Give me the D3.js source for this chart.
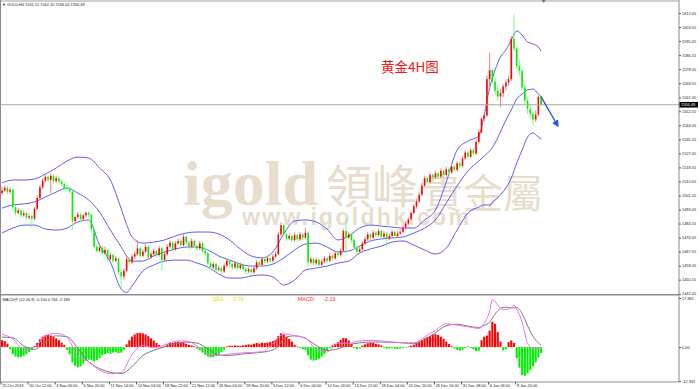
<!DOCTYPE html>
<html><head><meta charset="utf-8">
<script src="https://cdn.jsdelivr.net/npm/d3@7"></script>
<style>html,body{margin:0;padding:0;background:#fff;overflow:hidden}</style>
</head><body><svg id="c" width="700" height="389"></svg>
<script>
const header = "▼ GOLD,H4  1561.51 1562.10 1556.04 1556.49";
const macdHeader = "MACD柱 (12,26,9) -0.150 0.764 -2.188";
const title = "黄金4H图";
const deaText = ["DEA:", "0.76"];
const macdText = ["MACD:", "-2.19"];
const lastPrice = 1556.49;

// [open, high, low, close] per H4 bar
const ohlc = [
[1503.0,1507.0,1501.5,1504.5],[1504.5,1508.0,1503.5,1506.2],[1506.2,1507.5,1502.0,1503.8],[1503.8,1506.5,1502.5,1505.0],
[1505.0,1505.8,1493.0,1494.5],[1494.5,1495.5,1489.5,1491.0],[1491.0,1494.0,1490.0,1492.5],[1492.5,1493.5,1488.0,1489.5],
[1489.5,1492.5,1488.5,1490.8],[1490.8,1491.5,1486.5,1488.2],[1488.2,1490.5,1487.0,1489.0],[1489.0,1490.0,1482.0,1487.5],
[1487.5,1494.5,1486.5,1493.5],[1493.5,1501.5,1492.5,1500.0],[1500.0,1508.0,1499.0,1506.5],[1506.5,1512.0,1505.0,1510.5],
[1510.5,1514.5,1509.5,1512.8],[1512.8,1514.0,1509.5,1511.0],[1511.0,1515.0,1503.0,1513.5],[1513.5,1514.5,1508.5,1510.2],
[1510.2,1513.5,1509.0,1512.0],[1512.0,1513.0,1508.5,1510.0],[1510.0,1511.5,1507.0,1508.5],[1508.5,1509.5,1504.5,1506.0],
[1506.0,1508.0,1504.0,1505.5],[1505.5,1507.0,1502.5,1504.0],[1504.0,1505.0,1481.0,1486.0],[1486.0,1489.5,1484.5,1488.5],
[1488.5,1491.5,1487.0,1490.0],[1490.0,1491.0,1485.5,1487.2],[1487.2,1490.5,1486.0,1489.5],[1489.5,1492.0,1488.0,1491.0],
[1491.0,1492.0,1488.0,1489.8],[1489.8,1490.5,1479.5,1481.0],[1481.0,1482.0,1469.0,1470.5],[1470.5,1472.0,1466.5,1468.0],
[1468.0,1472.5,1467.0,1470.0],[1470.0,1471.0,1465.0,1466.5],[1466.5,1470.5,1465.5,1468.5],[1468.5,1469.5,1461.5,1463.0],
[1463.0,1467.0,1462.0,1465.5],[1465.5,1466.5,1460.5,1462.0],[1462.0,1465.0,1461.0,1463.5],[1463.5,1464.0,1453.5,1455.0],
[1455.0,1457.0,1446.0,1452.5],[1452.5,1457.5,1450.5,1456.0],[1456.0,1464.5,1455.0,1463.0],[1463.0,1464.0,1459.5,1461.0],
[1461.0,1466.0,1460.0,1464.5],[1464.5,1467.5,1463.0,1466.0],[1466.0,1474.5,1465.0,1469.5],[1469.5,1470.5,1463.5,1465.0],
[1465.0,1469.0,1464.0,1467.5],[1467.5,1472.0,1466.5,1470.5],[1470.5,1471.5,1462.5,1464.0],[1464.0,1467.5,1463.0,1466.0],
[1466.0,1469.5,1465.0,1468.0],[1468.0,1469.0,1464.0,1465.5],[1465.5,1471.0,1464.5,1469.5],[1469.5,1470.5,1456.0,1462.5],
[1462.5,1467.5,1461.5,1466.0],[1466.0,1472.0,1465.0,1470.5],[1470.5,1474.5,1469.5,1473.0],[1473.0,1474.0,1467.5,1469.0],
[1469.0,1474.0,1468.0,1472.5],[1472.5,1475.5,1471.5,1474.0],[1474.0,1475.0,1470.0,1471.5],[1471.5,1478.0,1470.5,1476.5],
[1476.5,1477.5,1471.5,1473.0],[1473.0,1474.0,1469.0,1470.5],[1470.5,1475.5,1469.5,1474.0],[1474.0,1475.0,1469.5,1471.0],
[1471.0,1472.0,1468.0,1469.5],[1469.5,1474.0,1468.5,1472.5],[1472.5,1473.5,1466.5,1468.0],[1468.0,1469.0,1465.0,1466.5],
[1466.5,1467.5,1459.0,1460.5],[1460.5,1461.5,1456.5,1458.0],[1458.0,1461.5,1457.0,1460.0],[1460.0,1461.0,1455.0,1456.5],
[1456.5,1459.0,1455.5,1457.5],[1457.5,1458.5,1454.0,1455.5],[1455.5,1460.5,1454.5,1459.0],[1459.0,1463.5,1458.0,1462.0],
[1462.0,1463.0,1458.5,1460.0],[1460.0,1461.0,1456.5,1458.0],[1458.0,1462.0,1457.0,1460.5],[1460.5,1461.5,1456.0,1457.5],
[1457.5,1461.0,1456.5,1459.5],[1459.5,1460.5,1455.5,1457.0],[1457.0,1458.0,1453.5,1455.5],[1455.5,1458.0,1454.5,1456.8],
[1456.8,1457.5,1453.5,1455.0],[1455.0,1458.5,1454.0,1457.5],[1457.5,1462.5,1456.5,1461.0],[1461.0,1462.0,1458.0,1459.5],
[1459.5,1464.5,1458.5,1463.0],[1463.0,1464.0,1460.0,1461.5],[1461.5,1465.0,1460.5,1463.5],[1463.5,1464.5,1460.5,1462.0],
[1462.0,1466.0,1461.0,1464.5],[1464.5,1467.5,1463.5,1466.0],[1466.0,1479.5,1465.5,1478.0],[1478.0,1485.5,1477.0,1483.5],
[1483.5,1484.5,1476.5,1478.0],[1478.0,1479.0,1474.0,1475.5],[1475.5,1478.5,1474.5,1477.0],[1477.0,1478.0,1473.0,1474.5],
[1474.5,1479.0,1473.5,1477.5],[1477.5,1478.5,1473.5,1475.0],[1475.0,1479.5,1474.0,1478.0],[1478.0,1479.0,1474.5,1476.0],
[1476.0,1481.7,1475.0,1479.0],[1479.0,1480.0,1458.5,1461.0],[1461.0,1464.5,1460.0,1463.0],[1463.0,1464.0,1459.0,1460.5],
[1460.5,1464.0,1459.5,1462.5],[1462.5,1463.5,1458.0,1459.5],[1459.5,1463.0,1458.5,1461.5],[1461.5,1465.0,1460.5,1463.5],
[1463.5,1464.5,1460.5,1462.0],[1462.0,1466.5,1461.0,1465.0],[1465.0,1466.0,1462.0,1463.5],[1463.5,1468.0,1462.5,1466.5],
[1466.5,1467.5,1464.0,1465.5],[1465.5,1469.5,1464.5,1468.0],[1468.0,1481.5,1467.0,1480.0],[1480.0,1488.0,1466.0,1476.0],
[1476.0,1479.5,1475.0,1478.0],[1478.0,1479.0,1473.0,1474.5],[1474.5,1475.5,1468.5,1470.0],[1470.0,1471.0,1466.0,1467.5],
[1467.5,1470.5,1466.5,1469.0],[1469.0,1474.0,1468.0,1472.5],[1472.5,1476.5,1471.5,1475.0],[1475.0,1479.5,1474.0,1478.0],
[1478.0,1479.0,1474.5,1476.0],[1476.0,1480.5,1475.0,1479.0],[1479.0,1480.0,1476.0,1477.5],[1477.5,1481.5,1476.5,1480.0],
[1480.0,1481.0,1475.0,1476.5],[1476.5,1480.0,1475.5,1478.5],[1478.5,1479.5,1470.0,1475.5],[1475.5,1478.5,1474.5,1477.0],
[1477.0,1481.0,1476.0,1479.5],[1479.5,1480.5,1475.5,1477.0],[1477.0,1480.0,1476.0,1478.5],[1478.5,1481.0,1477.5,1479.5],
[1479.5,1483.5,1478.5,1482.0],[1482.0,1486.0,1481.0,1484.5],[1484.5,1488.5,1483.5,1487.0],[1487.0,1492.5,1486.0,1491.0],
[1491.0,1496.5,1490.0,1495.0],[1495.0,1499.5,1493.5,1498.0],[1498.0,1503.5,1497.0,1502.0],[1502.0,1509.0,1501.0,1507.5],
[1507.5,1513.5,1506.5,1512.0],[1512.0,1513.0,1508.0,1509.5],[1509.5,1515.5,1508.5,1514.0],[1514.0,1515.0,1511.0,1512.5],
[1512.5,1516.5,1511.5,1515.0],[1515.0,1516.0,1511.5,1513.0],[1513.0,1518.0,1512.0,1516.5],[1516.5,1517.5,1512.5,1514.0],
[1514.0,1519.0,1513.0,1517.5],[1517.5,1518.5,1514.0,1515.5],[1515.5,1520.5,1514.5,1519.0],[1519.0,1520.0,1515.5,1517.0],
[1517.0,1522.5,1516.0,1521.0],[1521.0,1522.0,1518.0,1519.5],[1519.5,1525.5,1518.5,1524.0],[1524.0,1529.0,1523.0,1527.5],
[1527.5,1528.5,1523.5,1525.0],[1525.0,1530.5,1524.0,1529.0],[1529.0,1530.0,1525.5,1527.0],[1527.0,1535.5,1526.0,1534.0],
[1534.0,1541.5,1533.0,1540.0],[1540.0,1549.0,1539.0,1548.0],[1548.0,1551.5,1546.0,1550.0],[1550.0,1574.0,1549.0,1572.0],
[1572.0,1588.0,1566.0,1577.5],[1577.5,1579.0,1569.0,1570.5],[1570.5,1573.5,1563.0,1565.0],[1565.0,1568.0,1559.0,1561.5],
[1561.5,1566.0,1555.0,1563.5],[1563.5,1569.0,1561.0,1567.5],[1567.5,1572.0,1565.0,1570.0],[1570.0,1574.0,1568.0,1572.0],
[1572.0,1598.0,1571.0,1596.5],[1596.5,1611.0,1588.0,1590.5],[1590.5,1592.0,1578.0,1580.0],[1580.0,1584.0,1574.0,1577.0],
[1577.0,1579.0,1565.0,1567.0],[1567.0,1569.0,1557.0,1559.0],[1559.0,1561.0,1551.0,1554.0],[1554.0,1557.0,1548.0,1551.0],
[1551.0,1553.0,1544.0,1547.5],[1547.5,1553.0,1546.0,1550.5],[1550.5,1562.0,1549.5,1561.3],[1561.51,1562.10,1556.04,1556.49]
];

// Bollinger bands (20,2) read at these bar indices
const bandIdx = [0,4,8,12,16,20,24,28,32,36,40,44,46,48,52,56,60,64,68,72,76,80,84,88,92,96,100,104,108,112,116,120,124,128,132,136,140,144,148,152,156,160,164,168,172,176,178,180,182,184,186,188,190,192,194,196,198,199];
const bandUpper = [1509.1,1510.9,1510.9,1511.5,1514.5,1518.2,1522.4,1524.8,1524.2,1518.2,1510.9,1493.5,1484.0,1476.5,1472.7,1473.3,1474.6,1477.0,1478.8,1479.4,1479.4,1478.2,1474.6,1469.1,1464.9,1463.7,1467.3,1478.2,1486.1,1486.7,1485.5,1481.2,1474.6,1477.0,1481.8,1483.6,1483.0,1482.4,1481.8,1481.8,1486.7,1492.7,1509.7,1529.1,1534.5,1537.6,1550.3,1566.6,1577.5,1585.4,1589.6,1595.7,1601.2,1598.7,1594.5,1593.3,1591.5,1589.0];
const bandMid = [1493.9,1495.8,1496.4,1497.6,1500.6,1503.6,1506.1,1503.0,1498.8,1491.5,1480.6,1470.3,1465.0,1461.8,1461.8,1464.9,1467.3,1469.1,1470.3,1470.3,1468.5,1464.9,1462.4,1460.0,1458.8,1458.8,1460.0,1463.7,1468.5,1472.1,1472.7,1470.3,1467.3,1467.9,1470.9,1474.0,1475.2,1475.8,1476.4,1478.8,1481.8,1486.7,1497.0,1507.3,1516.4,1522.4,1525.4,1528.5,1533.3,1540.0,1547.2,1553.3,1560.0,1563.0,1565.4,1566.0,1563.0,1561.2];
const bandLower = [1478.8,1481.8,1483.6,1483.6,1481.2,1480.6,1481.8,1485.5,1486.7,1471.5,1461.2,1444.9,1442.8,1446.7,1455.8,1459.4,1461.8,1462.4,1462.4,1460.6,1458.2,1454.0,1451.5,1451.5,1452.8,1453.4,1452.2,1447.3,1450.3,1456.4,1457.6,1458.8,1460.6,1461.8,1466.7,1469.1,1470.9,1473.3,1474.0,1471.5,1468.5,1466.1,1469.7,1480.6,1490.9,1494.5,1495.8,1495.8,1498.8,1501.8,1506.1,1512.1,1521.2,1529.1,1536.9,1539.4,1536.9,1535.7];

// MACD histogram per bar
const macdHist = [
2.5,2.2,1.2,-0.8,-2.5,-3.4,-3.7,-3.6,-3.2,-2.6,
-1.8,-1.0,0.3,1.5,2.8,3.8,4.3,4.4,4.2,3.8,
3.2,2.5,1.6,0.8,-1.0,-2.5,-5.5,-6.8,-7.3,-7.0,
-6.0,-5.0,-4.6,-4.8,-5.2,-4.8,-4.0,-3.0,-2.5,-2.2,
-2.4,-2.0,-1.8,-2.2,-2.0,-1.0,1.0,2.5,3.8,4.6,
5.1,5.2,5.0,4.6,4.0,3.2,2.4,1.5,0.8,-0.4,
0.3,1.0,1.6,1.5,1.8,2.0,1.6,1.8,1.2,0.8,
0.6,0.3,-0.6,-1.2,-2.0,-2.8,-3.4,-3.7,-3.6,-3.2,
-2.6,-1.8,-1.0,0.3,0.5,0.4,0.6,0.5,0.4,0.6,
0.8,1.0,0.9,1.2,1.5,1.3,1.6,1.5,1.7,1.9,
2.2,2.6,4.0,5.0,4.6,3.8,3.0,2.0,0.8,0.2,
-0.3,-0.8,-1.0,-3.0,-4.6,-4.9,-4.7,-4.2,-3.5,-2.6,
-1.4,-0.4,0.6,1.2,1.8,2.6,3.3,3.2,2.4,1.2,
-0.4,-0.8,-0.5,0.5,1.0,1.4,1.6,1.5,1.2,1.0,
0.6,-0.3,-0.6,-0.5,-0.4,-0.6,-0.7,-0.5,-0.3,-0.2,
0.2,0.5,0.9,1.5,2.0,2.6,3.2,3.7,4.1,4.5,
4.7,4.4,3.8,3.0,2.0,1.1,0.3,-0.5,-1.0,-1.3,
-1.0,-0.4,0.2,-0.3,-0.8,-1.5,-1.3,2.5,3.8,4.2,
6.0,9.2,8.5,5.5,2.0,-1.2,-0.8,1.8,2.4,1.5,
-4.0,-7.5,-10.2,-10.4,-9.6,-8.4,-7.0,-5.5,-3.8,-2.19
];
// MACD lines read at these bar indices
const lineIdx = [0,4,8,12,16,20,24,28,32,36,40,44,48,52,56,60,64,68,72,76,80,84,88,92,96,100,102,104,108,112,116,120,124,128,132,136,140,144,148,152,156,160,164,168,172,176,178,180,181,182,184,186,188,189,190,192,194,196,198,199];
const difLine = [4.65,3.00,-0.84,-0.11,4.10,5.02,3.66,-3.41,-5.24,-8.35,-9.63,-9.27,-2.67,0.62,-0.29,0.81,2.09,2.27,0.44,-2.49,-3.04,-2.49,-2.12,-1.94,-1.68,1.36,3.55,4.84,4.10,3.37,-0.84,-1.76,1.36,1.43,2.23,2.45,2.27,1.83,1.61,1.54,3.74,6.12,8.50,7.95,7.40,6.78,8.68,13.08,17.4,16.56,14.18,13.63,14.54,15.27,13.81,9.05,1.36,-0.59,-0.37,-0.33];
const deaLine = [3.66,3.37,0.44,-0.84,1.90,4.10,3.74,-0.48,-5.42,-7.80,-9.16,-9.63,-7.07,-3.04,-1.21,0.15,1.17,1.83,1.47,-0.66,-2.86,-3.04,-2.60,-2.23,-1.87,-1.03,0.26,3.19,4.10,3.19,0.62,-1.21,-0.66,0.81,1.54,1.83,1.83,1.79,1.50,1.32,2.71,5.20,7.77,8.32,7.66,7.14,7.95,9.08,10.51,11.98,13.99,14.54,14.18,14.36,14.36,12.16,7.77,3.92,1.54,0.76];

const priceTicks = [1612.05,1603.55,1595.05,1586.55,1578.05,1569.55,1561.05,1552.55,1544.05,1535.55,1527.05,1518.55,1510.05,1501.55,1493.05,1484.55,1476.05,1467.55,1459.05,1450.55,1442.05];
const macdTicks = [17.861, 0, -12.331];
const macdTickLabels = ["17.861", "0.00", "-12.331"];
const timeIdx = [0,10,20,30,40,50,60,70,80,90,100,110,120,130,140,150,160,170,180,190];
const timeLabels = ["25 Oct 2019","30 Oct 12:00","4 Nov 06:00","6 Nov 20:00","11 Nov 14:00","14 Nov 04:00","18 Nov 22:00","21 Nov 12:00","26 Nov 04:00","28 Nov 20:00","3 Dec 12:00","6 Dec 04:00","10 Dec 20:00","13 Dec 12:00","18 Dec 04:00","20 Dec 20:00","26 Dec 16:00","31 Dec 08:00","6 Jan 06:00","8 Jan 20:00"];
const watermark = ["igold", "領峰", "貴金屬", "www.igoldhk.com"];
const arrowFrom = [199, 1561.2];
const arrowTo = [205.2, 1543.6];

// ---------- drawing ----------
const svg = d3.select("#c");
const W = 700, axisX = 679, mainTop = 1, mainBot = 294.5, subBot = 382;
const FONT = "'Liberation Sans', Arial, sans-serif";
const x = d3.scaleLinear().domain([0, ohlc.length - 1]).range([2, 541.1]);
const y = d3.scaleLinear().domain([1442.05, 1612.05]).range([293.7, 13]);
const ym = d3.scaleLinear().domain([-12.331, 17.861]).range([381, 298]);

svg.append("rect").attr("width", W).attr("height", 389).attr("fill", "#fff");

// watermark (one text block)
const wm = svg.append("text").attr("fill", "#e7ddcc");
wm.append("tspan").attr("x", 183).attr("y", 205).attr("font-family", "'Liberation Serif', serif")
  .attr("font-weight", "bold").attr("font-size", 64).text(watermark[0]);
wm.append("tspan").attr("x", 326).attr("y", 203).attr("font-family", "'Noto Sans CJK TC', sans-serif")
  .attr("font-size", 46).text(watermark[1]);
wm.append("tspan").attr("x", 423).attr("y", 208).attr("font-family", "'Noto Sans CJK TC', sans-serif")
  .attr("font-size", 40).text(watermark[2]);
wm.append("tspan").attr("x", 242).attr("y", 225).attr("font-family", FONT).attr("font-weight", "bold")
  .attr("font-size", 23).attr("letter-spacing", 2.3).text(watermark[3]);

svg.append("defs").append("clipPath").attr("id", "mainclip").append("rect")
  .attr("x", 0).attr("y", mainTop).attr("width", axisX).attr("height", mainBot - mainTop);
const main = svg.append("g").attr("clip-path", "url(#mainclip)");

// Bollinger bands
const bandLine = d3.line().x(d => x(d[0])).y(d => y(d[1])).curve(d3.curveMonotoneX);
[bandUpper, bandMid, bandLower].forEach(arr => {
  main.append("path").datum(bandIdx.map((k, j) => [k, arr[j]]))
    .attr("d", bandLine).attr("fill", "none").attr("stroke", "#4b4bf0").attr("stroke-width", 0.9);
});

// candles
const up = d => d[3] >= d[0];
const cg = main.append("g");
cg.selectAll("line").data(ohlc).join("line")
  .attr("x1", (d, i) => x(i)).attr("x2", (d, i) => x(i))
  .attr("y1", d => y(d[1])).attr("y2", d => y(d[2]))
  .attr("stroke", d => up(d) ? "#ff7a7a" : "#7aff7a").attr("stroke-width", 1);
cg.selectAll("rect").data(ohlc).join("rect")
  .attr("x", (d, i) => x(i) - 0.8).attr("width", 1.6)
  .attr("y", d => y(Math.max(d[0], d[3])))
  .attr("height", d => Math.max(0.8, Math.abs(y(d[0]) - y(d[3]))))
  .attr("fill", d => up(d) ? "#ff0000" : "#00f000");

// current price line
svg.append("line").attr("x1", 0).attr("x2", axisX).attr("y1", y(lastPrice)).attr("y2", y(lastPrice))
  .attr("stroke", "#a8a8a8").attr("stroke-width", 1);

// arrow
const defs = svg.select("defs");
defs.append("marker").attr("id", "ah").attr("viewBox", "0 0 10 10").attr("refX", 8).attr("refY", 5)
  .attr("markerWidth", 5).attr("markerHeight", 5).attr("orient", "auto")
  .append("path").attr("d", "M0,0L10,5L0,10Z").attr("fill", "#2456d6");
svg.append("line").attr("x1", x(arrowFrom[0])).attr("y1", y(arrowFrom[1]))
  .attr("x2", x(arrowTo[0])).attr("y2", y(arrowTo[1]))
  .attr("stroke", "#2456d6").attr("stroke-width", 1.4).attr("marker-end", "url(#ah)");

// title
svg.append("text").attr("x", 381).attr("y", 72).attr("font-family", "'Noto Sans CJK SC', sans-serif")
  .attr("font-size", 13.5).attr("fill", "#f01818").text(title);

// header
svg.append("text").attr("x", 2).attr("y", 6).attr("font-family", FONT).attr("font-size", 3.9)
  .attr("fill", "#222").text(header);

// MACD subwindow
const sub = svg.append("g");
sub.selectAll("rect").data(macdHist).join("rect")
  .attr("x", (d, i) => x(i) - 1.05).attr("width", 2.1)
  .attr("y", d => ym(Math.max(0, d))).attr("height", d => Math.abs(ym(d) - ym(0)))
  .attr("fill", d => d >= 0 ? "#ff0000" : "#00ee00");
const mline = d3.line().x(d => x(d[0])).y(d => ym(d[1])).curve(d3.curveMonotoneX);
sub.append("path").datum(lineIdx.map((k, j) => [k, deaLine[j]])).attr("d", mline)
  .attr("fill", "none").attr("stroke", "#7a7a7a").attr("stroke-width", 1);
sub.append("path").datum(lineIdx.map((k, j) => [k, difLine[j]])).attr("d", mline)
  .attr("fill", "none").attr("stroke", "#f070f0").attr("stroke-width", 1);

svg.append("text").attr("x", 2.5).attr("y", 300.6).attr("font-family", FONT).attr("font-size", 3.9)
  .attr("fill", "#222").text(macdHeader);
const lbl = (t, xx, col) => svg.append("text").attr("x", xx).attr("y", 301).attr("font-family", FONT)
  .attr("font-size", 5.4).attr("fill", col).text(t);
lbl(deaText[0], 212.7, "#e6e600"); lbl(deaText[1], 233.3, "#e6e600");
lbl(macdText[0], 297.7, "#ff2a2a"); lbl(macdText[1], 323.3, "#ff2a2a");

// frame
const frame = svg.append("g").attr("stroke", "#8c8c8c").attr("fill", "none");
frame.append("line").attr("x1", 0).attr("x2", axisX).attr("y1", 1).attr("y2", 1).attr("stroke", "#a0a0a0");
frame.append("line").attr("x1", 0).attr("x2", axisX).attr("y1", 294.8).attr("y2", 294.8).attr("stroke-width", 1.6);
frame.append("line").attr("x1", 0).attr("x2", axisX).attr("y1", subBot).attr("y2", subBot);
frame.append("line").attr("x1", 0.5).attr("x2", 0.5).attr("y1", 0).attr("y2", subBot);
frame.append("line").attr("x1", axisX).attr("x2", axisX).attr("y1", 0).attr("y2", subBot);
svg.append("path").attr("d", `M${x(199) + 0.5},0L${x(199) + 4.5},0L${x(199) + 2.5},3Z`).attr("fill", "#777");

// price axis
const ax = svg.append("g").attr("transform", `translate(${axisX},0)`)
  .call(d3.axisRight(y).tickValues(priceTicks).tickSize(2).tickPadding(1).tickFormat(d3.format(".2f")));
ax.select(".domain").remove();
ax.attr("font-family", FONT).attr("font-size", 3.9);
ax.selectAll("text").attr("fill", "#222");
ax.selectAll("line").attr("stroke", "#555");

// last price tag
svg.append("rect").attr("x", axisX + 0.5).attr("y", y(lastPrice) - 2.8).attr("width", 18.5).attr("height", 5.6).attr("fill", "#000");
svg.append("text").attr("x", axisX + 2).attr("y", y(lastPrice) + 1.4).attr("font-family", FONT)
  .attr("font-size", 3.9).attr("fill", "#fff").text(lastPrice.toFixed(2));

// MACD axis
const axm = svg.append("g").attr("transform", `translate(${axisX},0)`)
  .call(d3.axisRight(ym).tickValues(macdTicks).tickSize(2).tickPadding(1).tickFormat((d, i) => macdTickLabels[i]));
axm.select(".domain").remove();
axm.attr("font-family", FONT).attr("font-size", 3.9);
axm.selectAll("text").attr("fill", "#222");
axm.selectAll("line").attr("stroke", "#555");

// time axis
const axb = svg.append("g").attr("transform", `translate(-1.5,${subBot})`)
  .call(d3.axisBottom(x).tickValues(timeIdx).tickSize(2.5).tickPadding(0).tickFormat((d, i) => timeLabels[i]));
axb.select(".domain").remove();
axb.attr("font-family", FONT).attr("font-size", 3.9);
axb.selectAll("text").attr("fill", "#222").attr("text-anchor", "start").attr("dx", 1.2);
axb.selectAll("line").attr("stroke", "#555");
</script></body></html>
